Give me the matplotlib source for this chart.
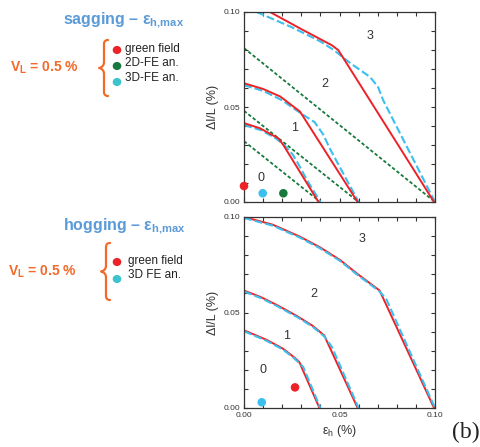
import matplotlib
matplotlib.use("Agg")
from matplotlib import pyplot as plt
from matplotlib.path import Path
from matplotlib.patches import PathPatch
from matplotlib.ticker import MultipleLocator
import numpy as np

plt.rcParams['font.family'] = ['Liberation Sans', 'DejaVu Sans']
plt.rcParams['mathtext.fontset'] = 'custom'
plt.rcParams['mathtext.rm'] = 'Liberation Sans'
plt.rcParams['mathtext.it'] = 'Liberation Sans:italic'
plt.rcParams['mathtext.bf'] = 'Liberation Sans:bold'

RED = '#ec2227'
CYAN = '#3bbfee'
GREEN = '#177a3c'
BLUE = '#5b9bd8'
ORANGE = '#f26a2a'

# ---- sagging: green field (red), 3D-FE (cyan dashed), 2D-FE (green dashed)
sag_red = [
    ([0.0136, 0.030, 0.046, 0.0494, 0.0995], [0.100, 0.091, 0.0825, 0.0799, 0.0]),
    ([0.0, 0.010, 0.019, 0.0293, 0.0595], [0.0625, 0.0595, 0.0555, 0.0476, 0.0]),
    ([0.0, 0.0084, 0.018, 0.0206, 0.039], [0.0415, 0.0388, 0.0335, 0.030, 0.0]),
]
sag_cyan = [
    ([0.0066, 0.025, 0.040, 0.047, 0.0555, 0.066, 0.0702, 0.0728, 0.100],
     [0.100, 0.092, 0.0845, 0.080, 0.0732, 0.0658, 0.0605, 0.0537, 0.0]),
    ([0.0, 0.010, 0.020, 0.030, 0.037, 0.0415, 0.045, 0.060],
     [0.0615, 0.0585, 0.0535, 0.0465, 0.042, 0.0355, 0.028, 0.0]),
    ([0.0, 0.009, 0.017, 0.022, 0.0255, 0.029, 0.033, 0.040],
     [0.0405, 0.0378, 0.0333, 0.029, 0.025, 0.019, 0.0115, 0.0]),
]
sag_green = [
    ([0.0, 0.100], [0.081, 0.0]),
    ([0.0, 0.060], [0.048, 0.0]),
    ([0.0, 0.040], [0.032, 0.0]),
]
sag_pts_x = [0.0, 0.0098, 0.0206]
sag_pts_y = [0.0084, 0.0046, 0.0046]
sag_pts_c = [RED, CYAN, GREEN]
sag_lab_x = [0.0087, 0.0267, 0.0424, 0.066]
sag_lab_y = [0.0125, 0.0388, 0.0621, 0.0875]

# ---- hogging: green field (red), 3D FE (cyan dashed)
hog_red = [
    ([0.0, 0.015, 0.0293, 0.040, 0.0503, 0.059, 0.071, 0.0995],
     [0.100, 0.096, 0.0897, 0.084, 0.0775, 0.0705, 0.0615, 0.0]),
    ([0.0, 0.009, 0.018, 0.028, 0.036, 0.042, 0.0595],
     [0.0615, 0.058, 0.0535, 0.048, 0.043, 0.038, 0.0]),
    ([0.0, 0.012, 0.0205, 0.0258, 0.029, 0.0395],
     [0.0407, 0.0356, 0.031, 0.0269, 0.024, 0.0]),
]
hog_cyan = [
    ([0.0, 0.015, 0.0293, 0.040, 0.0503, 0.059, 0.071, 0.0745, 0.100],
     [0.0995, 0.0955, 0.0892, 0.0835, 0.077, 0.070, 0.061, 0.057, 0.0]),
    ([0.0, 0.009, 0.018, 0.028, 0.036, 0.042, 0.046, 0.060],
     [0.061, 0.0575, 0.053, 0.0475, 0.0425, 0.0375, 0.032, 0.0]),
    ([0.0, 0.012, 0.0205, 0.0258, 0.029, 0.031, 0.040],
     [0.0402, 0.0351, 0.0305, 0.0264, 0.0235, 0.0215, 0.0]),
]
hog_pts_x = [0.0267, 0.0093]
hog_pts_y = [0.0108, 0.0030]
hog_pts_c = [RED, CYAN]
hog_lab_x = [0.0098, 0.0223, 0.0366, 0.0616]
hog_lab_y = [0.0199, 0.0377, 0.0597, 0.0883]

zones = ['0', '1', '2', '3']

W, H = 481, 447


def fx(x):
    return x / W


def fy(y):
    return 1 - y / H


def styleAxes(ax, xlabels):
    ax.set_xlim(0, 0.1)
    ax.set_ylim(0, 0.1)
    ax.xaxis.set_major_locator(MultipleLocator(0.05))
    ax.yaxis.set_major_locator(MultipleLocator(0.05))
    ax.xaxis.set_minor_locator(MultipleLocator(0.01))
    ax.yaxis.set_minor_locator(MultipleLocator(0.01))
    ax.tick_params(which='both', direction='in', length=3, width=0.8, color='#333333',
                   top=True, right=True, labelsize=6, labelcolor='#333333', pad=3)
    ax.yaxis.set_major_formatter(matplotlib.ticker.FormatStrFormatter('%.2f'))
    if xlabels:
        ax.xaxis.set_major_formatter(matplotlib.ticker.FormatStrFormatter('%.2f'))
    else:
        ax.tick_params(labelbottom=False)
    for s in ax.spines.values():
        s.set_linewidth(0.9)
        s.set_color('#333333')
    ax.set_ylabel('Δl/L (%)', fontsize=9, color='#333333', labelpad=3)


def drawBrace(fig, x, ytop, ybot, w=9):
    # curly brace in figure pixel coords (y down)
    ym = (ytop + ybot) / 2
    xs = x
    xm = x - w * 0.55
    xt = x + w * 0.45
    verts = [
        (xt, ytop),
        (xs, ytop), (xs, ytop + 4),
        (xs, ym - 6),
        (xs, ym - 1), (xm, ym),
        (xs, ym + 1), (xs, ym + 6),
        (xs, ybot - 4),
        (xs, ybot), (xt, ybot),
    ]
    codes = [Path.MOVETO,
             Path.CURVE3, Path.CURVE3,
             Path.LINETO,
             Path.CURVE3, Path.CURVE3,
             Path.CURVE3, Path.CURVE3,
             Path.LINETO,
             Path.CURVE3, Path.CURVE3]
    verts = [(fx(a), fy(b)) for a, b in verts]
    p = PathPatch(Path(verts, codes), transform=fig.transFigure, fill=False,
                  edgecolor=ORANGE, linewidth=1.6, capstyle='round', joinstyle='round')
    fig.patches.append(p)


def main():
    fig = plt.figure(figsize=(W / 100, H / 100), dpi=100)

    ax1 = fig.add_axes([fx(244), fy(202), (435 - 244) / W, 190 / H])
    ax2 = fig.add_axes([fx(244), fy(408), (435 - 244) / W, 191 / H])

    # sagging
    for xs, ys in sag_green:
        ax1.plot(xs, ys, color=GREEN, lw=1.3, dashes=(1.9, 1.2))
    for xs, ys in sag_cyan:
        ax1.plot(xs, ys, color=CYAN, lw=1.5, dashes=(3.8, 1.5))
    for xs, ys in sag_red:
        ax1.plot(xs, ys, color=RED, lw=1.4, solid_joinstyle='miter')
    ax1.scatter(sag_pts_x, sag_pts_y, s=38, c=sag_pts_c, zorder=5, clip_on=False, linewidths=0)
    for t, x, y in zip(zones, sag_lab_x, sag_lab_y):
        ax1.text(x, y, t, fontsize=9, color='#333333', ha='center', va='center')
    styleAxes(ax1, False)

    # hogging
    for xs, ys in hog_red:
        ax2.plot(xs, ys, color=RED, lw=1.4)
    for xs, ys in hog_cyan:
        ax2.plot(xs, ys, color=CYAN, lw=1.5, dashes=(3.8, 1.5))
    ax2.scatter(hog_pts_x, hog_pts_y, s=38, c=hog_pts_c, zorder=5, clip_on=False, linewidths=0)
    for t, x, y in zip(zones, hog_lab_x, hog_lab_y):
        ax2.text(x, y, t, fontsize=9, color='#333333', ha='center', va='center')
    styleAxes(ax2, True)
    ax2.set_xlabel(r'ε$_\mathregular{h}$ (%)', fontsize=9, color='#333333', labelpad=3)

    # side annotations
    fig.text(fx(124), fy(20), r'sagging – ε$_{\mathbf{h{,}max}}$', fontsize=11.5, fontweight='bold',
             color=BLUE, ha='center', va='center')
    fig.text(fx(124), fy(226), r'hogging – ε$_{\mathbf{h{,}max}}$', fontsize=11.5, fontweight='bold',
             color=BLUE, ha='center', va='center')
    fig.text(fx(10), fy(68), r'V$_{\mathbf{L}}$ = 0.5 %', fontsize=10, fontweight='bold',
             color=ORANGE, ha='left', va='center')
    fig.text(fx(8), fy(272), r'V$_{\mathbf{L}}$ = 0.5 %', fontsize=10, fontweight='bold',
             color=ORANGE, ha='left', va='center')
    drawBrace(fig, 104, 40, 96)
    drawBrace(fig, 106, 243, 300)

    leg1 = [('green field', RED, 50, 49), ('2D-FE an.', GREEN, 66, 63), ('3D-FE an.', '#3cc3cc', 82, 78)]
    for t, c, yd, yt in leg1:
        fig.text(fx(125), fy(yt), t, fontsize=8.5, color='#222222', ha='left', va='center')
        fig.patches.append(plt.Circle((fx(117), fy(yd)), 3.6 / W, color=c, transform=fig.transFigure))
    leg2 = [('green field', RED, 262, 261), ('3D FE an.', '#3cc3cc', 279, 275)]
    for t, c, yd, yt in leg2:
        fig.text(fx(128), fy(yt), t, fontsize=8.5, color='#222222', ha='left', va='center')
        fig.patches.append(plt.Circle((fx(117), fy(yd)), 3.6 / W, color=c, transform=fig.transFigure))

    fig.text(fx(466), fy(432), '(b)', fontsize=17, family='Liberation Serif', color='#222222',
             ha='center', va='center')

    fig.savefig('out.png', dpi=100)


if __name__ == "__main__":
    main()
